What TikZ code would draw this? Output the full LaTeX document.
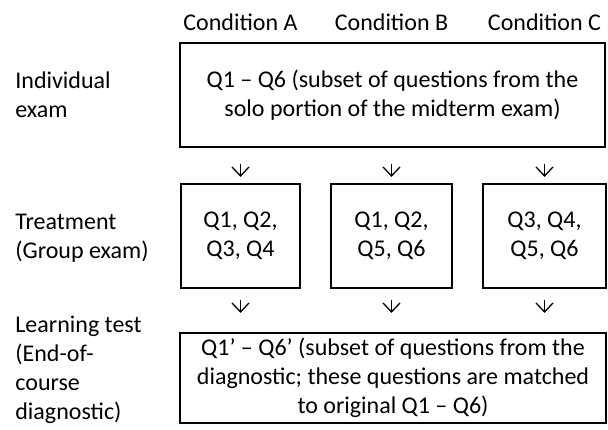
\documentclass[tikz,border=0pt]{standalone}
\usepackage{fontspec}
\setmainfont{Carlito}
\usetikzlibrary{arrows.meta}
\begin{document}
\begin{tikzpicture}[x=0.5pt,y=-0.5pt,
  every node/.style={font=\fontsize{12}{14.5}\selectfont, inner sep=0pt},
  box/.style={draw, line width=1.1pt, align=center},
  lab/.style={align=left},
  arr/.style={line width=0.65pt, -{Straight Barb[length=4.5pt,width=8.5pt]}}]
\useasboundingbox (0,0) rectangle (608,429);
% condition headers
\node[anchor=base] (ca) at (240.5,30) {Condition A};
\node[anchor=base] (cb) at (391.5,30) {Condition B};
\node[anchor=base] (cc) at (544.5,30) {Condition C};
% boxes
\node[box, minimum width=212.5pt, minimum height=52pt] (top) at (392.5,95)
  {Q1 – Q6 (subset of questions from the\\solo portion of the midterm exam)};
\node[box, minimum width=59.5pt, minimum height=52pt] (A) at (240.5,236) {Q1, Q2,\\Q3, Q4};
\node[box, minimum width=60.5pt, minimum height=52pt] (B) at (391.5,236) {Q1, Q2,\\Q5, Q6};
\node[box, minimum width=61.5pt, minimum height=52pt] (C) at (544.5,236) {Q3, Q4,\\Q5, Q6};
\node[box, minimum width=213pt, minimum height=45pt] (bot) at (393,378)
  {Q1’ – Q6’ (subset of questions from the\\diagnostic; these questions are matched\\to original Q1 – Q6)};
% row labels
\node[lab, anchor=west] (l1) at (15,95) {Individual\\exam};
\node[lab, anchor=west] (l2) at (15,238) {Treatment\\(Group exam)};
\node[lab, anchor=north west] (l3) at (15,316) {Learning test\\(End-of-\\course\\diagnostic)};
% arrows
\foreach \n in {A,B,C}{
  \draw[arr, shorten <=8pt, shorten >=3pt] (top.south -| \n.north) -- (\n.north);
  \draw[arr, shorten <=5.5pt, shorten >=9.5pt] (\n.south) -- (\n.south |- bot.north);
}
\end{tikzpicture}
\end{document}
